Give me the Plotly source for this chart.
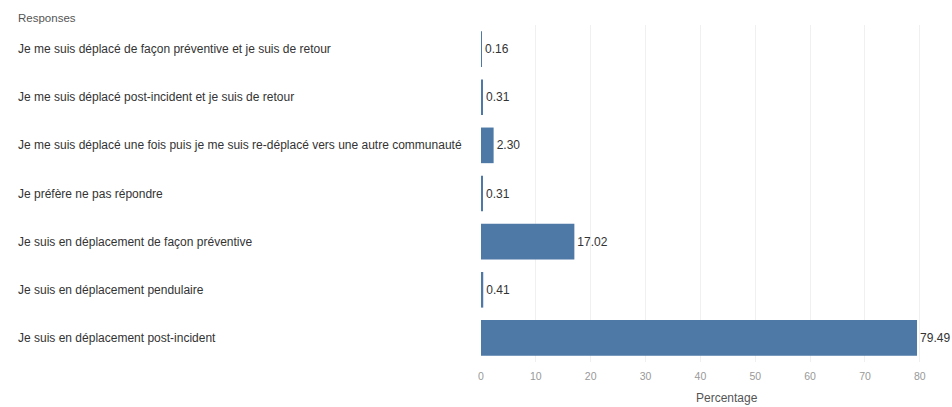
import plotly.graph_objects as go

# Survey responses (French) and their share of respondents, in percent
responses = [
    "Je me suis déplacé de façon préventive et je suis de retour",
    "Je me suis déplacé post-incident et je suis de retour",
    "Je me suis déplacé une fois puis je me suis re-déplacé vers une autre communauté",
    "Je préfère ne pas répondre",
    "Je suis en déplacement de façon préventive",
    "Je suis en déplacement pendulaire",
    "Je suis en déplacement post-incident",
]
percentages = [0.16, 0.31, 2.30, 0.31, 17.02, 0.41, 79.49]
x_ticks = [0, 10, 20, 30, 40, 50, 60, 70, 80]

BAR_COLOR = "#4e79a7"
FONT = "Liberation Sans, Arial, sans-serif"

W, H = 952, 407
ML, MR, MT, MB = 481, 2, 25, 45
plot_w = W - ML - MR
plot_h = H - MT - MB

fig = go.Figure(
    go.Bar(
        x=percentages,
        y=responses,
        orientation="h",
        marker=dict(color=BAR_COLOR, line=dict(width=0)),
        text=[f"{v:.2f}" for v in percentages],
        textposition="outside",
        textfont=dict(family=FONT, size=12, color="#333333"),
        cliponaxis=False,
        width=0.74,
        hoverinfo="skip",
    )
)

# Row labels, left-aligned in the header pane
for r in responses:
    fig.add_annotation(
        x=-(ML - 16) / plot_w, xref="paper", xanchor="left",
        y=r, yref="y", yanchor="middle",
        text=r, showarrow=False,
        font=dict(family=FONT, size=12, color="#333333"),
    )

# Column header for the label pane
fig.add_annotation(
    x=-(ML - 16) / plot_w, xref="paper", xanchor="left",
    y=(H - MB - 18) / plot_h, yref="paper", yanchor="middle",
    text="Responses", showarrow=False,
    font=dict(family=FONT, size=11.5, color="#555555"),
)

# Axis title
fig.add_annotation(
    x=(727 - ML) / plot_w, xref="paper", xanchor="center",
    y=-(398 - (H - MB)) / plot_h, yref="paper", yanchor="middle",
    text="Percentage", showarrow=False,
    font=dict(family=FONT, size=12, color="#555555"),
)

fig.update_layout(
    width=W, height=H,
    margin=dict(l=ML, r=MR, t=MT, b=MB),
    paper_bgcolor="white", plot_bgcolor="white",
    showlegend=False,
    xaxis=dict(
        range=[0, 85.5],
        tickvals=x_ticks,
        ticktext=[str(t) for t in x_ticks],
        tickfont=dict(family=FONT, size=10.5, color="#999999"),
        showgrid=True, gridcolor="#f0f0f0", gridwidth=1,
        zeroline=False, showline=False, ticks="",
        ticklabelstandoff=6,
        fixedrange=True,
    ),
    yaxis=dict(
        categoryorder="array", categoryarray=responses,
        autorange="reversed",
        showticklabels=False, showgrid=False, zeroline=False, ticks="",
        fixedrange=True,
    ),
)

fig.write_html("out.html")
